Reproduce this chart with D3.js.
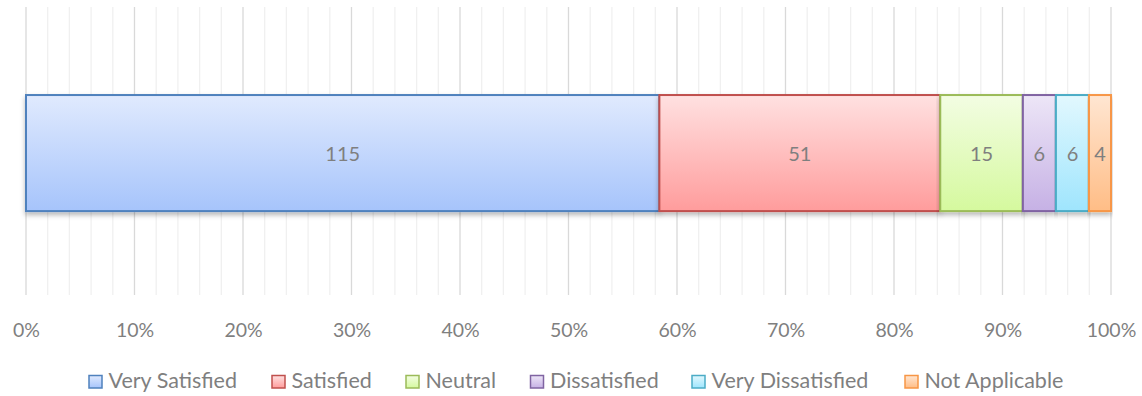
<!DOCTYPE html>
<html>
<head>
<meta charset="utf-8">
<script src="https://cdn.jsdelivr.net/npm/d3@7/dist/d3.min.js"></script>
<style>
  html, body { margin: 0; padding: 0; background: #fff; }
  svg { display: block; }
  text { font-family: Lato, "Open Sans", sans-serif; fill: #7f7f7f; }
</style>
</head>
<body>
<svg id="chart" width="1142" height="396"></svg>
<script>
// Survey responses, one stacked 100% bar
const categories = ["Very Satisfied", "Satisfied", "Neutral", "Dissatisfied", "Very Dissatisfied", "Not Applicable"];
const counts = [115, 51, 15, 6, 6, 4];
const tickValues = [0, 0.1, 0.2, 0.3, 0.4, 0.5, 0.6, 0.7, 0.8, 0.9, 1.0];
const strokeColors = ["#4f81bd", "#c0504d", "#9bbb59", "#8064a2", "#4bacc6", "#f79646"];
const fillTop = ["#e0eafe", "#ffe1e1", "#f3fde3", "#ede6f7", "#e2f8fe", "#ffe6d2"];
const fillBottom = ["#a6c4fb", "#ff9c9c", "#d5f99e", "#c6b1e5", "#9fe5fd", "#ffbd86"];

const svg = d3.select("#chart");
const margin = { left: 26, right: 31, top: 7, bottom: 101 };
const W = 1142, H = 396;

const x = d3.scaleLinear().domain([0, 1]).range([margin.left, W - margin.right]);
const y = d3.scaleBand().domain(["all"]).range([margin.top, H - margin.bottom])
  .paddingInner(0.595).paddingOuter(0.3).align(0.512);

const total = d3.sum(counts);
let acc = 0;
const segs = counts.map((v, i) => {
  const s = { cat: categories[i], value: v, i, x0: acc / total, x1: (acc + v) / total };
  acc += v;
  return s;
});

const defs = svg.append("defs");
categories.forEach((c, i) => {
  const g = defs.append("linearGradient").attr("id", "grad" + i)
    .attr("x1", 0).attr("y1", 0).attr("x2", 0).attr("y2", 1);
  g.append("stop").attr("offset", "0%").attr("stop-color", fillTop[i]);
  g.append("stop").attr("offset", "100%").attr("stop-color", fillBottom[i]);
});
const shadow = defs.append("filter").attr("id", "shadow")
  .attr("x", "-5%").attr("y", "-20%").attr("width", "110%").attr("height", "150%");
shadow.append("feDropShadow").attr("dx", 0).attr("dy", 3).attr("stdDeviation", 2.5)
  .attr("flood-color", "#000").attr("flood-opacity", 0.28);

// Gridlines: minor every 2%, major every 10%
const minor = d3.range(0, 101, 2).filter(d => d % 10 !== 0).map(d => d / 100);
svg.append("g").selectAll("line").data(minor).join("line")
  .attr("x1", d => x(d)).attr("x2", d => x(d))
  .attr("y1", margin.top).attr("y2", H - margin.bottom)
  .attr("stroke", "#f0f0f0").attr("stroke-width", 1.3);
svg.append("g").selectAll("line").data(tickValues).join("line")
  .attr("x1", d => x(d)).attr("x2", d => x(d))
  .attr("y1", margin.top).attr("y2", H - margin.bottom)
  .attr("stroke", "#d9d9d9").attr("stroke-width", 1.3);

// Bars
const by = y("all"), bh = y.bandwidth();
svg.append("g").selectAll("rect").data(segs).join("rect")
  .attr("x", d => x(d.x0)).attr("y", by)
  .attr("width", d => x(d.x1) - x(d.x0)).attr("height", bh)
  .attr("fill", d => `url(#grad${d.i})`)
  .attr("stroke", d => strokeColors[d.i]).attr("stroke-width", 2)
  .attr("filter", "url(#shadow)");

svg.append("g").selectAll("text").data(segs).join("text")
  .attr("x", d => (x(d.x0) + x(d.x1)) / 2).attr("y", by + bh / 2 + 7.5)
  .attr("text-anchor", "middle")
  .attr("font-size", 20)
  .text(d => d.value);

// X axis labels
const axis = d3.axisBottom(x).tickValues(tickValues).tickFormat(d3.format(".0%")).tickSize(0).tickPadding(0);
const ax = svg.append("g").attr("transform", `translate(0, ${H - margin.bottom})`).call(axis);
ax.select(".domain").remove();
ax.selectAll("text").attr("font-size", 19.5).attr("fill", "#7f7f7f")
  .attr("dy", null).attr("y", 42).style("font-family", "Lato, 'Open Sans', sans-serif");

// Legend
const legendX = [88.5, 271.5, 405.5, 530, 691.5, 904.5];
const lg = svg.append("g").selectAll("g").data(categories).join("g")
  .attr("transform", (d, i) => `translate(${legendX[i]}, 388)`);
lg.append("rect").attr("x", 0.5).attr("y", -12.5).attr("width", 13).attr("height", 12.5)
  .attr("fill", (d, i) => `url(#grad${i})`)
  .attr("stroke", (d, i) => strokeColors[i]).attr("stroke-width", 1.5);
lg.append("text").attr("x", 20).attr("y", 0)
  .attr("font-size", 21.5).text(d => d);
</script>
</body>
</html>
